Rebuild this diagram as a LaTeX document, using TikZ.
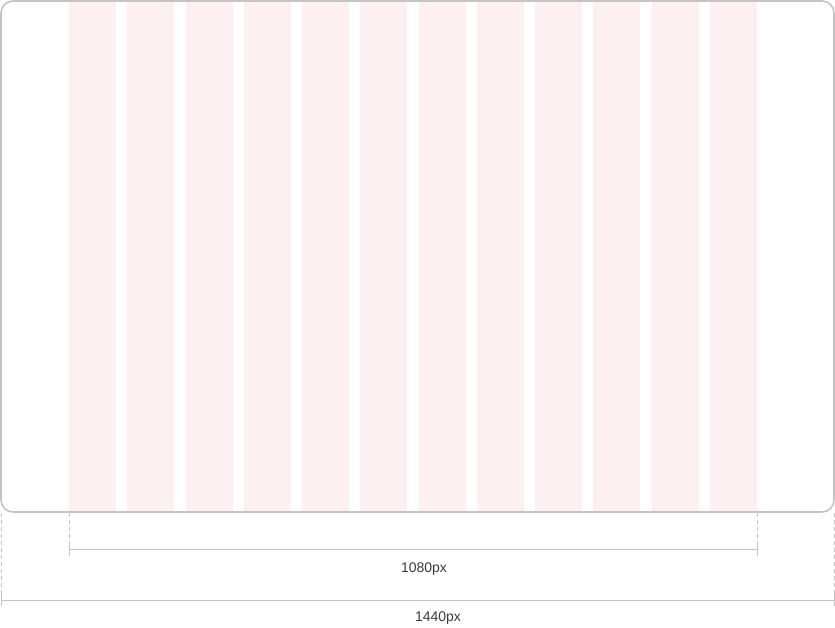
\documentclass[tikz,border=0pt]{standalone}
\usepackage{fontspec}
\setmainfont{Liberation Sans}
\definecolor{framegray}{HTML}{C4C4C4}
\definecolor{colfill}{HTML}{FDF0F0}
\definecolor{textgray}{HTML}{3A3A3A}
\begin{document}
\begin{tikzpicture}[x=1pt,y=-1pt,
  frame/.style={draw=framegray,line width=1.6pt,rounded corners=12pt},
  colbox/.style={fill=colfill,draw=none},
  guide/.style={draw=framegray,line width=0.8pt,dash pattern=on 4pt off 3pt},
  dimline/.style={draw=framegray,line width=0.8pt},
  dimlabel/.style={text=textgray,font=\fontsize{14}{16}\selectfont,inner sep=0pt}]
\useasboundingbox (0,0) rectangle (835,627);
% columns
\foreach \i in {0,...,11}{
  \fill[colbox] ({69+\i*58.27},2) rectangle ({69+\i*58.27+47},512);
}
\draw[frame] (1,1) rectangle (834,512);
% coordinates
\coordinate (il) at (69,513);
\coordinate (ir) at (757,513);
\coordinate (ilb) at (69,549);
\coordinate (irb) at (757,549);
\coordinate (ol) at (1,513);
\coordinate (or) at (834,513);
\coordinate (olb) at (1,600);
\coordinate (orb) at (834,600);
% guides
\draw[guide] (il) -- (69,543);
\draw[guide] (ir) -- (757,543);
\draw[guide] (ol) -- (1,593);
\draw[guide] (or) -- (834,593);
% inner dimension
\draw[dimline] (ilb) -- (irb);
\draw[dimline] (69,543) -- (69,556);
\draw[dimline] (757,543) -- (757,556);
% outer dimension
\draw[dimline] (olb) -- (orb);
\draw[dimline] (1,593) -- (1,606);
\draw[dimline] (834,593) -- (834,606);
% labels
\node[dimlabel] (l1080) at (424,569) {1080px};
\node[dimlabel] (l1440) at (438,618) {1440px};
\end{tikzpicture}
\end{document}
